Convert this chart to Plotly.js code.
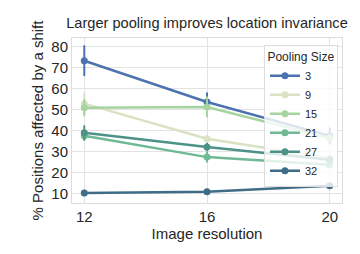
<!DOCTYPE html>
<html>
<head>
<meta charset="utf-8">
<script src="https://cdn.plot.ly/plotly-3.0.1.min.js"></script>
<style>html,body{margin:0;padding:0;background:#fff}#chart{width:360px;height:254px}</style>
</head>
<body>
<div id="chart"></div>
<script>
const resolutions = [12, 16, 20];
const poolingSizes = ['3', '9', '15', '21', '27', '32'];
const values_3  = [73.2, 53.6, 37.5];
const values_9  = [52.8, 36.1, 27.0];
const values_15 = [50.9, 51.2, 36.5];
const values_21 = [37.6, 27.4, 23.8];
const values_27 = [39.0, 32.2, 26.2];
const values_32 = [10.3, 10.9, 13.8];
const err_3  = [7.3, 4.5, 4.0];
const err_9  = [5.0, 1.5, 1.0];
const err_15 = [4.0, 5.0, 2.0];
const err_21 = [2.5, 2.5, 1.5];
const err_27 = [3.5, 2.0, 1.5];
const err_32 = [0.5, 0.5, 0.6];
const colors = ['#4c72b0', '#d9e2c2', '#a6d4a0', '#6fb994', '#4d9289', '#3f6c86'];

const series = [values_3, values_9, values_15, values_21, values_27, values_32];
const errs = [err_3, err_9, err_15, err_21, err_27, err_32];

const traces = poolingSizes.map((name, i) => ({
  x: resolutions,
  y: series[i],
  name: name,
  type: 'scatter',
  mode: 'lines+markers',
  line: {color: colors[i], width: 2.5},
  marker: {color: colors[i], size: 7},
  error_y: {type: 'data', array: errs[i], visible: true, color: colors[i], thickness: 2, width: 0}
}));

const layout = {
  width: 360, height: 254,
  margin: {l: 72, r: 18, t: 38, b: 51},
  paper_bgcolor: '#fff', plot_bgcolor: '#fff',
  font: {family: 'Liberation Sans, Arial, sans-serif', color: '#262626', size: 15},
  title: {text: 'Larger pooling improves location invariance', font: {size: 14.6, color: '#262626'},
          x: 0.5, xanchor: 'center', xref: 'paper', y: 1, yref: 'container', yanchor: 'top', pad: {t: 18}},
  xaxis: {
    range: [11.6, 20.4], tickvals: resolutions, ticktext: resolutions.map(String),
    showgrid: true, gridcolor: '#e3e3e3', gridwidth: 1, zeroline: false,
    showline: true, mirror: true, linecolor: '#dcdcdc', linewidth: 1,
    ticks: '', ticklen: 0, tickfont: {size: 15},
    title: {text: 'Image resolution', font: {size: 15}, standoff: 4}
  },
  yaxis: {
    range: [5.6, 84], tickvals: [10, 20, 30, 40, 50, 60, 70, 80],
    showgrid: true, gridcolor: '#e3e3e3', gridwidth: 1, zeroline: false,
    showline: true, mirror: true, linecolor: '#dcdcdc', linewidth: 1,
    ticks: '', tickfont: {size: 15},
    title: {text: '% Positions affected by a shift', font: {size: 15}, standoff: 4}
  },
  legend: {
    title: {text: 'Pooling Size', font: {size: 12}, side: 'top center'},
    font: {size: 11},
    x: 0.985, xanchor: 'right', y: 0.96, yanchor: 'top',
    bgcolor: 'rgba(255,255,255,0.8)', bordercolor: '#dddddd', borderwidth: 1,
    tracegroupgap: 0, itemwidth: 30
  },
  showlegend: true
};

Plotly.newPlot('chart', traces, layout, {displayModeBar: false, staticPlot: true});
</script>
</body>
</html>
